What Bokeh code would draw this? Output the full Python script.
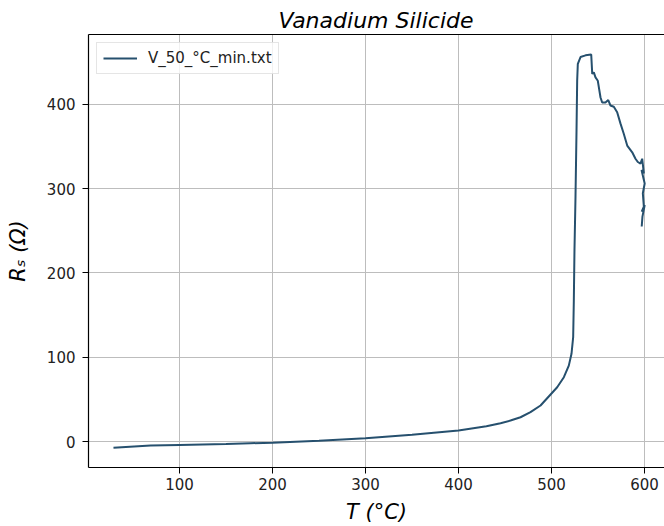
from bokeh.plotting import figure
from bokeh.models import Range1d, FixedTicker, Legend, LegendItem, Title, LinearAxis
from bokeh.embed import file_html
from bokeh.resources import INLINE

# Temperature (°C) and sheet resistance (Ohm)
T = [29, 69, 100, 150, 176, 200, 250, 300, 350, 400, 430, 445.2, 455.9,
     466.7, 477.4, 488.2, 499, 506.1, 513.3, 518.6, 521.5, 523.3, 524,
     524.7, 525.8, 526.9, 527.6, 528.3, 531.2, 536.6, 542.7, 543.8, 545.5,
     547.3, 549.8, 552.7, 554.5, 558, 561, 563.4, 567, 570.6, 574.2, 577.7,
     581.4, 586.8, 590.3, 592.8, 595.7, 597.5, 599.3, 596.8, 600.2, 598.2,
     599.3, 597, 600.2, 597.8, 597]
R = [-7.5, -4.7, -4, -3, -2, -1.5, 1, 4, 8, 13, 18, 21.7, 24.9,
     28.8, 34.8, 42.7, 55.8, 64.4, 76.3, 90, 104, 123.7, 167,
     226.6, 290, 369, 428, 448, 456, 458, 459, 436, 437.8,
     431.8, 427.8, 408, 402, 402, 405, 398.5, 397, 390.5, 377, 365,
     351, 343, 335.4, 331.5, 329.6, 335.4, 318, 322, 306, 294.4,
     278.6, 272.6, 280.5, 266.7, 255]

x_ticks = [100, 200, 300, 400, 500, 600]
y_ticks = [0, 100, 200, 300, 400]

series_label = "V_50_°C_min.txt"
title_text = "Vanadium Silicide"
x_label = "T (°C)"
y_label = "Rₛ (Ω)"

FONT = "DejaVu Sans"
LINE_COLOR = "#26506e"

p = figure(width=664, height=526, output_backend="svg", toolbar_location=None,
           x_range=Range1d(2.15, 621.5), y_range=Range1d(-30.8, 482.7),
           min_border_left=88, min_border_right=0, min_border_top=34,
           min_border_bottom=59)

p.title = Title(text=title_text, align="left", offset=190, text_font=FONT,
                text_font_size="22px", text_font_style="italic",
                text_color="black", standoff=4)

r = p.line(T, R, line_color=LINE_COLOR, line_width=2)

p.outline_line_color = None
p.background_fill_color = "white"
p.border_fill_color = "white"

xb = p.below[0]
yl = p.left[0]

for ax, ticks in ((xb, x_ticks), (yl, y_ticks)):
    ax.ticker = FixedTicker(ticks=ticks, minor_ticks=[])
    ax.axis_line_color = "black"
    ax.axis_line_width = 1.2
    ax.major_tick_line_color = "black"
    ax.major_tick_line_width = 1
    ax.major_tick_out = 6
    ax.major_tick_in = 0
    ax.minor_tick_line_color = None
    ax.major_label_text_font = FONT
    ax.major_label_text_font_size = "15px"
    ax.major_label_text_color = "#222222"
    ax.axis_label_text_font = FONT
    ax.axis_label_text_font_size = "21px"
    ax.axis_label_text_font_style = "italic"
    ax.axis_label_text_color = "black"

xb.axis_label = x_label
yl.axis_label = y_label
xb.major_label_standoff = 4
xb.axis_label_standoff = 7
yl.major_label_standoff = 7
yl.axis_label_standoff = 14

# top spine (no ticks, no labels)
top = LinearAxis(ticker=FixedTicker(ticks=[]), axis_line_color="black",
                 axis_line_width=1.2, major_tick_out=0, major_tick_in=0,
                 minor_tick_out=0, minor_tick_in=0,
                 major_label_text_font_size="0px", major_label_standoff=0)
p.add_layout(top, "above")

p.xgrid.grid_line_color = "#bdbdbd"
p.ygrid.grid_line_color = "#bdbdbd"
p.xgrid.grid_line_width = 1
p.ygrid.grid_line_width = 1
p.xgrid.ticker = FixedTicker(ticks=x_ticks)
p.ygrid.ticker = FixedTicker(ticks=y_ticks)

legend = Legend(items=[LegendItem(label=series_label, renderers=[r])],
                location="top_left", margin=8, padding=6, glyph_width=34,
                glyph_height=18, label_height=18, label_standoff=11,
                label_text_font=FONT, label_text_font_size="15px",
                label_text_color="#222222", border_line_color="#cccccc",
                border_line_width=1, background_fill_alpha=0.8)
p.add_layout(legend)

open("out.html", "w").write(file_html(p, INLINE))
